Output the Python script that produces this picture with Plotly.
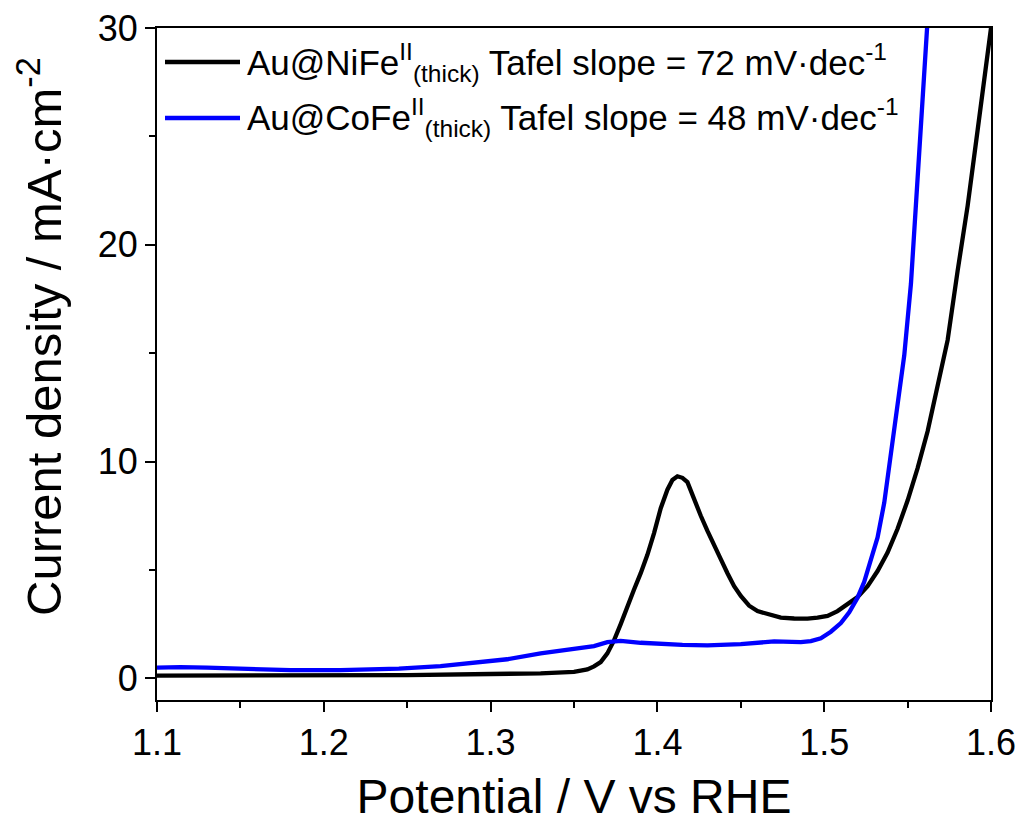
import plotly.graph_objects as go

# Linear sweep voltammograms (potential in V vs RHE, current density in mA/cm^2)
nife_potential = [1.100, 1.150, 1.200, 1.250, 1.300, 1.330, 1.350, 1.358, 1.362, 1.366,
                  1.370, 1.374, 1.378, 1.382, 1.386, 1.390, 1.394, 1.398, 1.402, 1.406,
                  1.409, 1.412, 1.415, 1.418, 1.422, 1.426, 1.430, 1.434, 1.438, 1.442,
                  1.446, 1.450, 1.455, 1.460, 1.466, 1.474, 1.482, 1.490, 1.496, 1.502,
                  1.508, 1.514, 1.520, 1.526, 1.532, 1.538, 1.544, 1.550, 1.556, 1.562,
                  1.568, 1.574, 1.580, 1.586, 1.592, 1.596, 1.600]
nife_current = [0.12, 0.12, 0.13, 0.15, 0.20, 0.23, 0.30, 0.41, 0.55, 0.75,
                1.15, 1.75, 2.50, 3.35, 4.10, 4.85, 5.70, 6.70, 7.85, 8.70,
                9.15, 9.32, 9.25, 9.05, 8.25, 7.50, 6.80, 6.20, 5.50, 4.85,
                4.25, 3.80, 3.35, 3.10, 2.95, 2.80, 2.76, 2.75, 2.80, 2.88,
                3.10, 3.40, 3.75, 4.25, 4.95, 5.80, 6.90, 8.20, 9.70, 11.40,
                13.40, 15.60, 18.80, 21.80, 25.30, 27.60, 30.00]

cofe_potential = [1.100, 1.114, 1.130, 1.150, 1.180, 1.210, 1.245, 1.270, 1.290, 1.310,
                  1.330, 1.350, 1.362, 1.370, 1.378, 1.390, 1.402, 1.415, 1.430, 1.450,
                  1.470, 1.478, 1.486, 1.492, 1.498, 1.504, 1.510, 1.515, 1.520, 1.524,
                  1.528, 1.532, 1.536, 1.540, 1.544, 1.548, 1.552, 1.556, 1.560, 1.5625]
cofe_current = [0.49, 0.52, 0.49, 0.45, 0.38, 0.38, 0.45, 0.56, 0.72, 0.88,
                1.15, 1.37, 1.49, 1.67, 1.73, 1.64, 1.57, 1.54, 1.52, 1.58,
                1.70, 1.70, 1.67, 1.72, 1.85, 2.15, 2.55, 3.05, 3.72, 4.45,
                5.40, 6.50, 8.10, 10.30, 12.60, 14.90, 18.20, 23.00, 28.00, 31.00]

series_names = [
    "Au@NiFe<sup>II</sup><sub>(thick)</sub> Tafel slope = 72 mV·dec<sup>-1</sup>",
    "Au@CoFe<sup>II</sup><sub>(thick)</sub> Tafel slope = 48 mV·dec<sup>-1</sup>",
]
series_colors = ["#000000", "#0000ff"]

x_title = "Potential / V vs RHE"
y_title = "Current density / mA·cm<sup>-2</sup>"
x_ticks = [1.1, 1.2, 1.3, 1.4, 1.5, 1.6]
y_ticks = [0, 10, 20, 30]

FONT = "Liberation Sans, Arial, sans-serif"
LINE_W = 4.3

fig = go.Figure()
for xs, ys, name, color in zip([nife_potential, cofe_potential],
                               [nife_current, cofe_current],
                               series_names, series_colors):
    fig.add_trace(go.Scatter(x=xs, y=ys, mode="lines", name=name,
                             line=dict(color=color, width=LINE_W),
                             showlegend=False))

# Plot-area geometry in pixels (for placing the hand-drawn legend and y title)
W, H = 1022, 823
L, R, T, B = 157, 31, 28, 123
pw, ph = W - L - R, H - T - B


def px_to_paper(px, py):
    return (px - L) / pw, (H - B - py) / ph


legend_rows = [62, 118]
for name, color, row in zip(series_names, series_colors, legend_rows):
    x0, y0 = px_to_paper(165, row)
    x1, _ = px_to_paper(240, row)
    fig.add_shape(type="line", xref="paper", yref="paper", x0=x0, x1=x1, y0=y0, y1=y0,
                  line=dict(color=color, width=LINE_W))
    tx, ty = px_to_paper(245, row)
    fig.add_annotation(xref="paper", yref="paper", x=tx, y=ty, text=name,
                       showarrow=False, xanchor="left", yanchor="middle",
                       font=dict(family=FONT, size=35, color="#000000"))

# Vertical axis title, set slightly above the plot's vertical centre
yt_x, yt_y = px_to_paper(40, 337)
fig.add_annotation(xref="paper", yref="paper", x=yt_x, y=yt_y, text=y_title,
                   textangle=-90, showarrow=False, xanchor="center", yanchor="middle",
                   font=dict(family=FONT, size=49, color="#000000"))

axis_common = dict(
    showline=True, linecolor="#000000", linewidth=2, mirror=True,
    showgrid=False, zeroline=False, automargin=False,
    ticks="outside", ticklen=10, tickwidth=2, tickcolor="#000000",
    tickfont=dict(family=FONT, size=36, color="#000000"),
)

fig.update_layout(
    width=W, height=H,
    margin=dict(l=L, r=R, t=T, b=B),
    paper_bgcolor="white", plot_bgcolor="white",
    xaxis=dict(range=[1.1, 1.6], tickvals=x_ticks, ticktext=[f"{v:.1f}" for v in x_ticks],
               minor=dict(dtick=0.05, tick0=1.1, ticks="outside", ticklen=6, tickwidth=2, tickcolor="#000000"),
               title=dict(text=x_title, font=dict(family=FONT, size=48, color="#000000"), standoff=30),
               **axis_common),
    yaxis=dict(range=[-1, 30], tickvals=y_ticks,
               minor=dict(dtick=5, tick0=0, ticks="outside", ticklen=6, tickwidth=2, tickcolor="#000000"),
               **axis_common),
)

fig.write_html("out.html")
